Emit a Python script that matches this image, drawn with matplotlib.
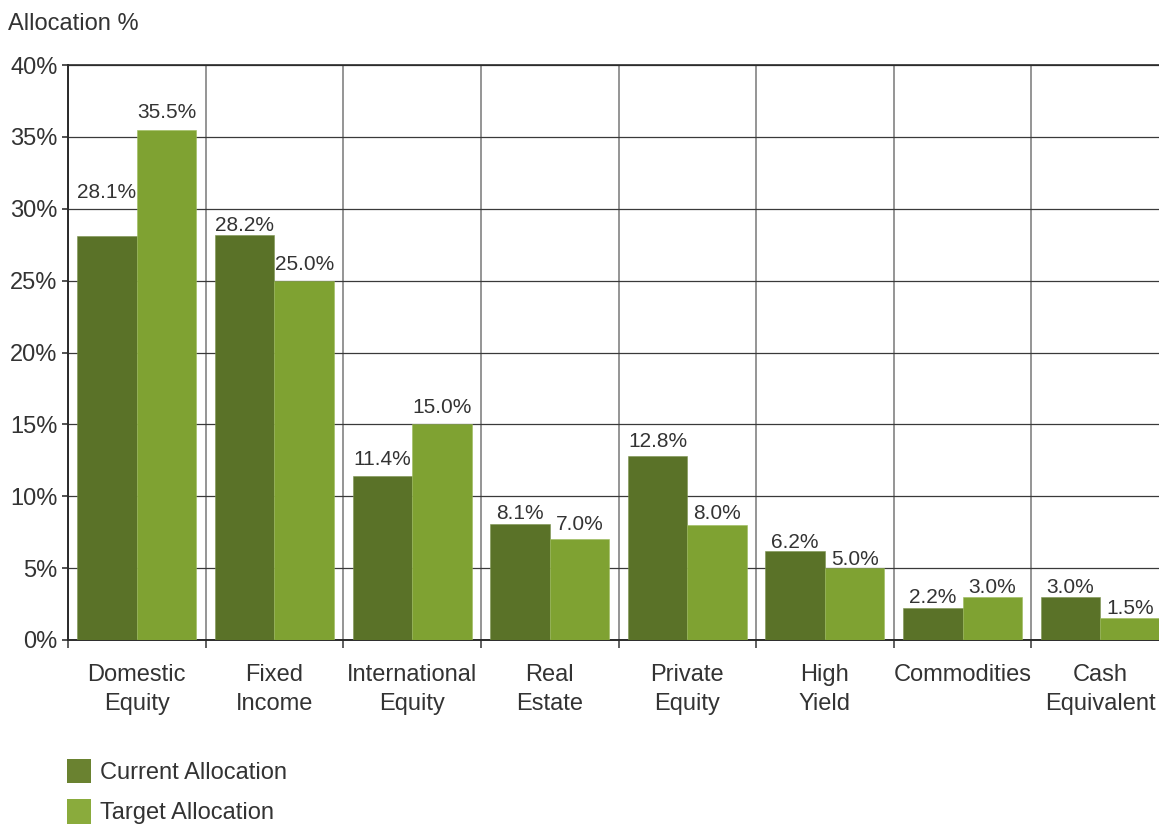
import matplotlib
matplotlib.use("Agg")
import matplotlib.pyplot as plt
from matplotlib.patches import Patch
import numpy as np

categories = ["Domestic\nEquity", "Fixed\nIncome", "International\nEquity", "Real\nEstate",
              "Private\nEquity", "High\nYield", "Commodities", "Cash\nEquivalent"]
current = [28.1, 28.2, 11.4, 8.1, 12.8, 6.2, 2.2, 3.0]
target = [35.5, 25.0, 15.0, 7.0, 8.0, 5.0, 3.0, 1.5]
yticks = [0, 5, 10, 15, 20, 25, 30, 35, 40]

# value-label baseline offsets above bar tops (points)
cur_offsets = [27.4, 2.9, 7.7, 3.6, 6.5, 1.9, 4.1, 2.9]
tgt_offsets = [8.6, 7.9, 7.9, 7.0, 4.1, 2.4, 2.9, 2.9]

c_cur = "#5a7228"
c_tgt = "#7fa232"
txt = "#333333"

plt.rcParams['font.family'] = ['Liberation Sans', 'DejaVu Sans']
fs = 17
fs_val = 15

fig = plt.figure(figsize=(11.59, 8.27), dpi=100)
W, H = 1159, 827
left, right, top, bottom = 68, 1169, 65, 640
ax = fig.add_axes([left / W, 1 - bottom / H, (right - left) / W, (bottom - top) / H])

x = np.arange(len(categories))
bw = 0.4325
b1 = ax.bar(x - bw / 2, current, bw, color=c_cur, edgecolor="#7d9450", linewidth=0.4, zorder=3)
b2 = ax.bar(x + bw / 2, target, bw, color=c_tgt, edgecolor="#9cbb5c", linewidth=0.4, zorder=3)

for bars, vals, offs in ((b1, current, cur_offsets), (b2, target, tgt_offsets)):
    for r, v, o in zip(bars, vals, offs):
        ax.annotate(f"{v:.1f}%", (r.get_x() + r.get_width() / 2, v), xytext=(0, o),
                    textcoords="offset points", ha="center", va="baseline",
                    fontsize=fs_val, color=txt, zorder=4)

ax.set_xlim(-0.5, len(categories) - 0.5)
ax.set_ylim(0, 40)
ax.set_yticks(yticks)
ax.set_yticklabels([f"{t}%" for t in yticks], fontsize=fs, color=txt)

bounds = np.arange(-0.5, len(categories) - 0.5, 1.0)
ax.set_xticks(bounds)
ax.set_xticklabels([])
ax.set_xticks(x, minor=True)
ax.set_xticklabels(categories, minor=True, fontsize=fs, color=txt, linespacing=1.45)
ax.tick_params(axis="x", which="minor", length=0, pad=17)
ax.tick_params(axis="x", which="major", length=5.5, width=1.2, color="#444444", direction="out")
ax.tick_params(axis="y", length=4.5, width=1.2, color="#333333", direction="out", pad=3)

ax.grid(axis="x", which="major", color="#8c8c8c", linewidth=1.3, zorder=0)
ax.grid(axis="y", color="#3a3a3a", linewidth=0.9, zorder=0)
ax.set_axisbelow(True)

for s in ("left", "bottom", "top"):
    ax.spines[s].set_color("#2a2a2a")
    ax.spines[s].set_linewidth(1.4)
ax.spines["right"].set_visible(False)
ax.spines["top"].set_linewidth(1.2)

fig.text(8 / W, 1 - 24 / H, "Allocation %", fontsize=fs, color=txt, ha="left", va="center")

handles = [Patch(facecolor="#6a8230", edgecolor="none"), Patch(facecolor="#8aab3c", edgecolor="none")]
fig.legend(handles, ["Current Allocation", "Target Allocation"], loc="upper left",
           bbox_to_anchor=(67 / W, 1 - 759 / H), frameon=False, fontsize=fs,
           handlelength=1.0, handleheight=1.2, handletextpad=0.4, labelspacing=0.65,
           labelcolor=txt, borderaxespad=0, borderpad=0)

fig.savefig("out.png", dpi=100)
